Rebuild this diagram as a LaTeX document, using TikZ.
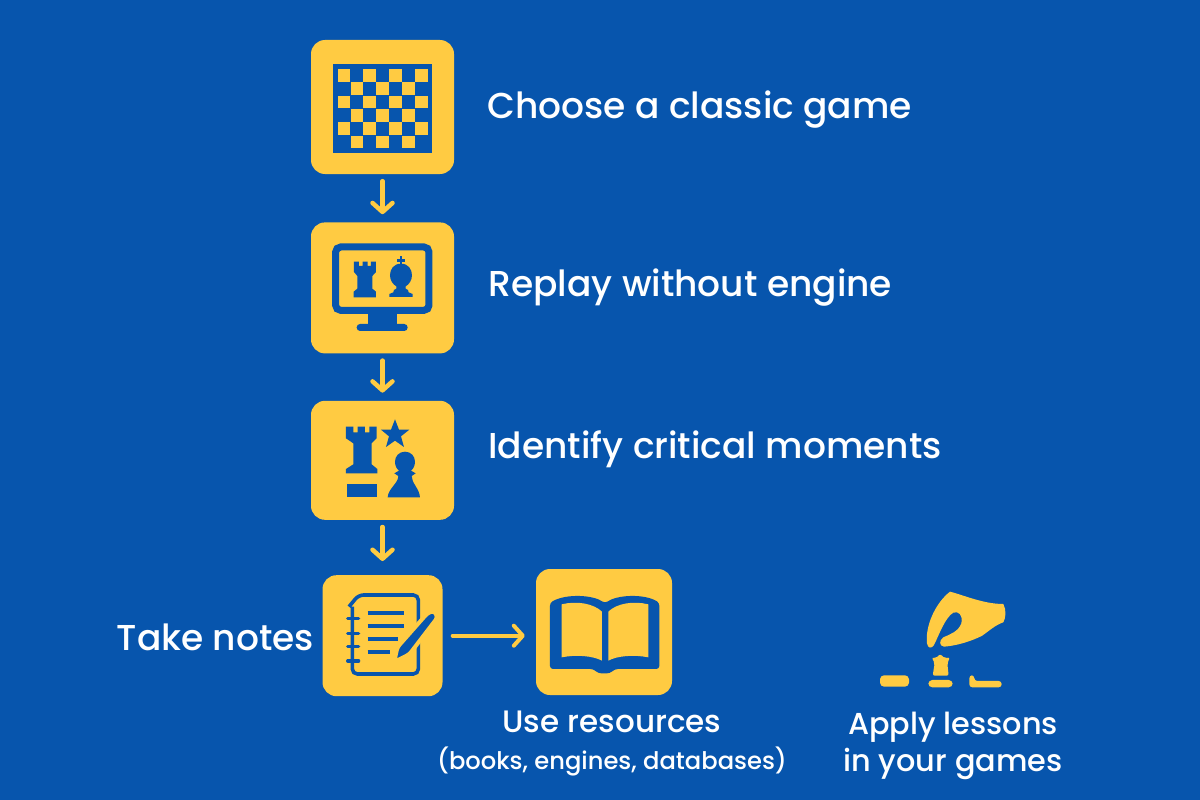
\documentclass[tikz,border=0pt]{standalone}
\usepackage{fontspec}
\setmainfont{Poppins}[UprightFont=* Medium]
\usetikzlibrary{positioning}
\usetikzlibrary{arrows.meta}
\definecolor{boardblue}{HTML}{0755AD}
\definecolor{gold}{HTML}{FFCB42}
\tikzset{
    iconbox/.style={
        fill=gold,
        rounded corners=14pt,
        inner sep=0pt},
    steplabel/.style={
        text=white,
        font=\fontsize{36}{44}\selectfont,
        inner sep=0pt},
    sublabel/.style={
        text=white,
        align=center,
        font=\fontsize{30.3}{37}\selectfont,
        inner sep=0pt},
    flowarrow/.style={
        draw=gold,
        line width=4.5pt,
        line cap=round,
        -{Straight Barb[length=9pt,width=20pt,round]}},
    ink/.style={
        fill=boardblue},
    zoomed/.style={
        scale=0.3333}}

\begin{document}
\begin{tikzpicture}[x=1pt,y=-1pt]
    \fill[boardblue] (0,0) rectangle (1200,800);
    \useasboundingbox (0,0) rectangle (1200,800);

    \node[iconbox,minimum width=143pt,minimum height=134pt] (board) at (382.5,107) {};
    \node[iconbox,minimum width=143pt,minimum height=131pt,below=48pt of board] (monitor) {};
    \node[iconbox,minimum width=143pt,minimum height=119pt,below=47pt of monitor] (moment) {};
    \node[iconbox,minimum width=120pt,minimum height=121pt,below=55pt of moment] (notes) {};
    \node[iconbox,minimum width=136pt,minimum height=126pt] (book) at (604,632) {};

    \node[steplabel,right=33pt of board,yshift=-3pt] (choose) {Choose a classic game};
    \node[steplabel,right=34pt of monitor] (replay) {Replay without engine};
    \node[steplabel,right=34pt of moment,yshift=11pt] (identify) {Identify critical moments};
    \node[steplabel,left=8pt of notes,yshift=-2pt] (take) {Take notes};
    \node[sublabel,below=16pt of book,xshift=8pt] (use) {{\fontsize{31}{37}\selectfont Use resources}\\[0pt]{\fontsize{24.2}{34}\selectfont (books, engines, databases)}};
    \node[sublabel] (apply) at (953,746) {Apply lessons\\in your games};

    \draw[flowarrow,shorten <=7pt,shorten >=8pt] (board) -- (monitor);
    \draw[flowarrow,shorten <=7pt,shorten >=8pt] (monitor) -- (moment);
    \draw[flowarrow,shorten <=7pt,shorten >=14pt] (moment) -- (notes);
    \draw[flowarrow,line width=4pt,shorten <=10pt,shorten >=11pt] (notes.east) -- (notes.east -| book.west);

    % chess board
    \begin{scope}[shift={(300,30)},zoomed]
        \fill[ink] (100,103) rectangle (395,370);
        \foreach \row in {0,...,5} {
            \foreach \col in {0,...,6} {
                \pgfmathparse{int(mod(\row+\col,2))}
                \ifnum\pgfmathresult=0
                    \fill[gold] (113+38.6*\col,117+40*\row) rectangle ++(38,38);
                \fi
            }
        }
    \end{scope}

    % screen with rook and bishop
    \begin{scope}[shift={(300,210)},zoomed]
        \draw[boardblue,line width=7pt,rounded corners=5pt] (107,111) rectangle (387,301);
        \fill[ink] (205,305) -- (292,305) -- (292,345) -- (205,345) -- cycle;
        \fill[ink,rounded corners=3.4pt] (170,342) rectangle (323,363);
        \fill[ink] (162,155) -- (177,155) -- (177,168) -- (188,168) -- (188,155) -- (203,155) -- (203,168) -- (213,168) -- (213,155) -- (228,155) -- (228,186) -- (217,198) -- (217,236) -- (228,245) -- (228,262) -- (161,262) -- (161,245) -- (172,236) -- (172,198) -- (162,186) -- cycle;
        \fill[ink] (303,161) .. controls (325,161) and (336,178) .. (336,196) .. controls (336,212) and (326,224) .. (317,229) -- (317,236) -- (324,240) -- (326,247) -- (338,252) -- (338,261) -- (268,261) -- (268,252) -- (280,247) -- (282,240) -- (289,236) -- (289,229) .. controls (280,224) and (270,212) .. (270,196) .. controls (270,178) and (281,161) .. (303,161) -- cycle;
        \fill[ink] (299,138) rectangle (307,165);
        \fill[ink] (290,147) rectangle (316,155);
    \end{scope}

    % rook, star and pawn
    \begin{scope}[shift={(300,395)},zoomed]
        \fill[ink] (138,95) -- (160,95) -- (160,112) -- (173,112) -- (173,95) -- (195,95) -- (195,112) -- (208,112) -- (208,95) -- (230,95) -- (230,130) -- (215,145) -- (215,208) -- (232,222) -- (232,235) -- (138,235) -- (138,222) -- (160,208) -- (160,145) -- (138,130) -- cycle;
        \fill[ink] (140,268) rectangle (232,305);
        \fill[ink] (285,73) -- (297,104) -- (328,104) -- (303,124) -- (312,156) -- (285,137) -- (258,156) -- (267,124) -- (243,104) -- (273,104) -- cycle;
        \fill[ink] (315,170) .. controls (333,170) and (345,184) .. (345,200) .. controls (345,212) and (340,222) .. (333,227) -- (347,235) -- (335,243) .. controls (335,265) and (358,280) .. (360,307) -- (263,307) .. controls (265,280) and (295,265) .. (295,243) -- (283,235) -- (297,227) .. controls (290,222) and (285,212) .. (285,200) .. controls (285,184) and (297,170) .. (315,170) -- cycle;
    \end{scope}

    % notebook and pen
    \begin{scope}[shift={(310,560)},zoomed]
        \draw[boardblue,line width=3.6pt,rounded corners=5pt] (117,140) -- (146,105) -- (325,105) -- (325,342) -- (127,342) -- (127,140);
        \foreach \ringy in {176,220,260,303}
            \draw[boardblue,line width=3.2pt,line cap=round] (113,\ringy) -- (146,\ringy);
        \foreach \linex/\liney in {282/160,282/198,265/237,240/275}
            \draw[boardblue,line width=4pt] (173,\liney) -- (\linex,\liney);
        \filldraw[fill=boardblue,draw=gold,line width=4pt,rounded corners=3pt] (253,306) -- (262,262) -- (352,160) -- (372,152) -- (383,172) -- (298,283) -- cycle;
    \end{scope}

    % open book
    \begin{scope}[shift={(450,560)},zoomed]
        \fill[ink,rounded corners=3pt] (300,128) .. controls (350,100) and (430,105) .. (465,130) .. controls (500,105) and (580,100) .. (628,128) -- (628,327) -- (495,327) -- (480,340) -- (445,340) -- (430,327) -- (300,327) -- cycle;
        \fill[gold] (335,133) .. controls (380,122) and (430,130) .. (456,155) -- (456,302) .. controls (430,288) and (380,283) .. (335,292) -- cycle;
        \fill[gold] (475,155) .. controls (500,130) and (550,122) .. (595,133) -- (595,292) .. controls (550,283) and (500,288) .. (475,302) -- cycle;
    \end{scope}

    % hand placing a piece
    \begin{scope}[shift={(860,580)},zoomed]
        \fill[gold] (270,35) .. controls (310,45) and (370,72) .. (430,72) .. controls (440,90) and (437,115) .. (430,127) .. controls (405,135) and (385,155) .. (365,168) .. controls (330,185) and (290,197) .. (252,200) .. controls (238,198) and (236,182) .. (250,172) .. controls (270,163) and (295,155) .. (304,130) .. controls (310,105) and (295,92) .. (280,98) .. controls (255,112) and (235,170) .. (222,195) .. controls (215,207) and (203,205) .. (201,190) .. controls (195,140) and (225,70) .. (270,35) -- cycle;
        \fill[gold,rounded corners=4pt] (60,286) rectangle (147,320);
        \fill[gold,rounded corners=4pt] (205,300) rectangle (278,322);
        \fill[gold,rounded corners=3pt] (328,286) -- (343,286) -- (343,303) -- (425,303) -- (425,322) -- (328,322) -- cycle;
        \fill[gold,rounded corners=2pt] (215,232) -- (228,235) -- (240,222) -- (255,235) -- (270,232) -- (262,250) -- (266,287) -- (218,287) -- (224,250) -- cycle;
    \end{scope}
\end{tikzpicture}
\end{document}
